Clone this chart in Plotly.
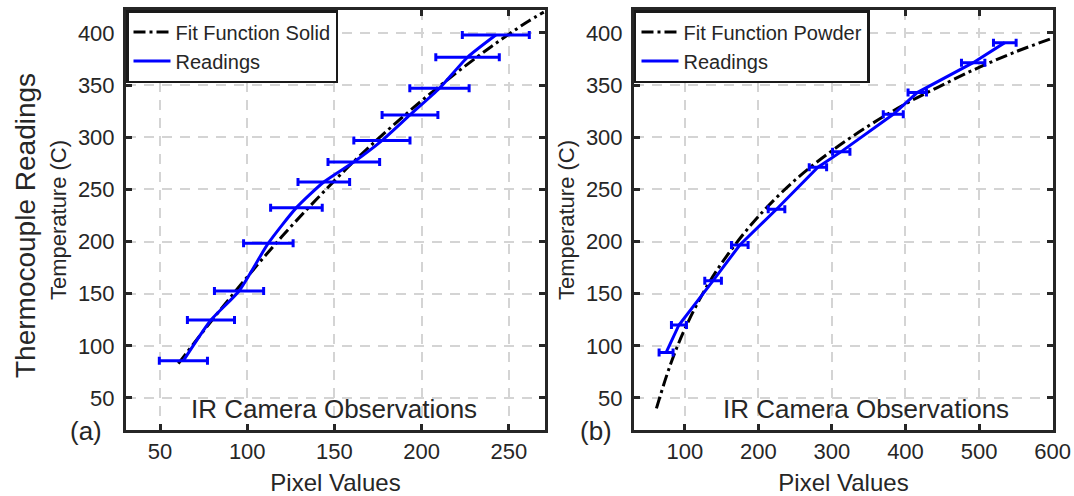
import plotly.graph_objects as go

# ---- data: panel (a) solid ----
solid_pixel = [63.4, 79.2, 95.3, 112.1, 128.2, 143.9, 161.1, 177.2, 193.3, 210.2, 226.3, 242.5]
solid_temp = [85.8, 124.8, 152.6, 198.4, 232.5, 257.1, 276.3, 296.8, 321.4, 347.0, 376.7, 398.0]
solid_err = [13.8, 13.5, 14.1, 14.2, 14.8, 14.8, 14.8, 16.1, 16.0, 17.0, 18.2, 19.2]

fit_solid_pixel = [60.5, 80, 100, 120, 140, 160, 180, 200, 220, 240, 260, 270]
fit_solid_temp = [83, 125, 166, 205, 241, 275, 306, 335, 362, 387, 410, 420]

# ---- data: panel (b) powder ----
powder_pixel = [74.6, 92.1, 138.5, 174.8, 224.7, 281.0, 312.7, 383.4, 416.0, 492.0, 535.0]
powder_temp = [93.5, 120.0, 162.5, 196.7, 231.0, 271.2, 286.2, 322.0, 342.8, 371.5, 390.7]
powder_err = [9.5, 10.2, 11.3, 11.3, 11.3, 11.8, 11.8, 13.6, 12.5, 15.9, 15.4]

fit_powder_pixel = [61.5, 80, 100, 130, 160, 200, 250, 300, 350, 400, 450, 500, 550, 600]
fit_powder_temp = [40, 81, 116, 157, 189, 224, 259, 287, 311, 332, 350, 367, 382, 395]

x_ticks_a = [50, 100, 150, 200, 250]
x_ticks_b = [100, 200, 300, 400, 500, 600]
y_ticks = [50, 100, 150, 200, 250, 300, 350, 400]

FONT = "Liberation Sans, Arial, sans-serif"
INK = "#262626"
BLUE = "#0000ff"
DASHDOT = "12px,4px,3px,4px"

fig = go.Figure()

fig.add_trace(go.Scatter(
    x=fit_solid_pixel, y=fit_solid_temp, mode="lines", name="Fit Function Solid",
    line=dict(color="black", width=3, dash=DASHDOT, shape="spline"),
    xaxis="x", yaxis="y", legend="legend"))
fig.add_trace(go.Scatter(
    x=solid_pixel, y=solid_temp, mode="lines", name="Readings",
    line=dict(color=BLUE, width=3, shape="spline", smoothing=0.6),
    error_x=dict(type="data", array=solid_err, color=BLUE, thickness=3, width=4),
    xaxis="x", yaxis="y", legend="legend"))

fig.add_trace(go.Scatter(
    x=fit_powder_pixel, y=fit_powder_temp, mode="lines", name="Fit Function Powder",
    line=dict(color="black", width=3, dash=DASHDOT, shape="spline"),
    xaxis="x2", yaxis="y2", legend="legend2"))
fig.add_trace(go.Scatter(
    x=powder_pixel, y=powder_temp, mode="lines", name="Readings",
    line=dict(color=BLUE, width=3),
    error_x=dict(type="data", array=powder_err, color=BLUE, thickness=3, width=4),
    xaxis="x2", yaxis="y2", legend="legend2"))

axis_common = dict(
    showline=True, linecolor=INK, linewidth=3, mirror="ticks",
    ticks="inside", ticklen=6, tickwidth=2.5, tickcolor=INK,
    showgrid=True, gridcolor="#d4d4d4", gridwidth=1.5, griddash="10px,8px",
    zeroline=False, automargin=False,
    tickfont=dict(size=22, color=INK, family=FONT),
)
xt = dict(size=24, color=INK, family=FONT)
yt = dict(size=22, color=INK, family=FONT)

legend_common = dict(
    y=1, xref="paper", yref="paper", xanchor="left", yanchor="top",
    bgcolor="white", bordercolor="#1a1a1a", borderwidth=2.5,
    font=dict(size=20, color=INK, family=FONT), tracegroupgap=0, itemwidth=37)

fig.update_layout(
    template="none",
    width=1074, height=496,
    margin=dict(l=126, r=21, t=10, b=66, autoexpand=False),
    paper_bgcolor="white", plot_bgcolor="white",
    font=dict(family=FONT, color=INK),
    xaxis=dict(domain=[0, 0.452], range=[30.5, 270.7], tickvals=x_ticks_a, anchor="y",
               title=dict(text="Pixel Values", standoff=20, font=xt),
               ticklabelstandoff=0, **axis_common),
    yaxis=dict(domain=[0, 1], range=[19.3, 422], tickvals=y_ticks, anchor="x",
               title=dict(text="Temperature (C)", standoff=6, font=yt),
               ticklabelstandoff=4, **axis_common),
    xaxis2=dict(domain=[0.548, 1], range=[31, 600.5], tickvals=x_ticks_b, anchor="y2",
                title=dict(text="Pixel Values", standoff=20, font=xt),
                ticklabelstandoff=0, **axis_common),
    yaxis2=dict(domain=[0, 1], range=[19.3, 422], tickvals=y_ticks, anchor="x2",
                title=dict(text="Temperature (C)", standoff=6, font=yt),
                ticklabelstandoff=4, **axis_common),
    legend=dict(x=0, **legend_common),
    legend2=dict(x=0.548, **legend_common),
    showlegend=True,
    annotations=[
        dict(text="IR Camera Observations", x=150, y=39, xref="x", yref="y",
             xanchor="center", yanchor="middle", showarrow=False,
             font=dict(size=26, color=INK, family=FONT)),
        dict(text="IR Camera Observations", x=346, y=39, xref="x2", yref="y2",
             xanchor="center", yanchor="middle", showarrow=False,
             font=dict(size=26, color=INK, family=FONT)),
        dict(text="Thermocouple Readings", x=-0.109, y=0.488, xref="paper", yref="paper",
             xanchor="center", yanchor="middle", textangle=-90, showarrow=False,
             font=dict(size=28, color=INK, family=FONT)),
        dict(text="(a)", x=-0.0431, y=-0.002, xref="paper", yref="paper",
             xanchor="center", yanchor="middle", showarrow=False,
             font=dict(size=26, color=INK, family=FONT)),
        dict(text="(b)", x=0.507, y=-0.002, xref="paper", yref="paper",
             xanchor="center", yanchor="middle", showarrow=False,
             font=dict(size=26, color=INK, family=FONT)),
    ],
)

# remove the browser's default 8px body margin so the figure fills the window exactly
fig.write_html(
    "out.html",
    config={"displayModeBar": False},
    post_script="document.body.style.margin='0';document.body.style.overflow='hidden';",
)
